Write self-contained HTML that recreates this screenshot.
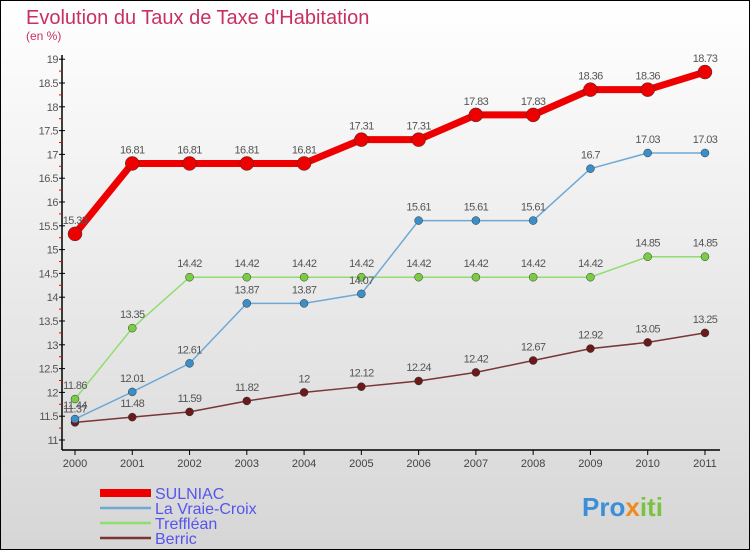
<!DOCTYPE html>
<html><head><meta charset="utf-8"><style>
body{margin:0;width:750px;height:550px;overflow:hidden}
svg{display:block;font-family:"Liberation Sans",sans-serif}
</style></head><body>
<svg id="c" width="750" height="550">
<defs><linearGradient id="bg" x1="0" y1="0" x2="0" y2="1"><stop offset="0" stop-color="#ffffff"/><stop offset="1" stop-color="#d6d6d6"/></linearGradient></defs>
<rect x="0.5" y="0.5" width="749" height="549" fill="url(#bg)" stroke="#000"/>
<text x="26" y="24" font-size="20" fill="#c8305f">Evolution du Taux de Taxe d'Habitation</text>
<text x="26" y="40" font-size="12" fill="#c8305f">(en %)</text>
<g id="axes"></g><g id="series"></g><g id="legend"></g>
<text x="582" y="516" font-size="26" font-weight="bold" fill="#3a8fd8">Pro<tspan fill="#f08a1c">x</tspan><tspan fill="#7cc242">iti</tspan></text>
</svg>
<script>
const years=[2000,2001,2002,2003,2004,2005,2006,2007,2008,2009,2010,2011];
const yTicks=[11,11.5,12,12.5,13,13.5,14,14.5,15,15.5,16,16.5,17,17.5,18,18.5,19];
const sulniac=[15.33,16.81,16.81,16.81,16.81,17.31,17.31,17.83,17.83,18.36,18.36,18.73];
const vraieCroix=[11.44,12.01,12.61,13.87,13.87,14.07,15.61,15.61,15.61,16.7,17.03,17.03];
const treffleau=[11.86,13.35,14.42,14.42,14.42,14.42,14.42,14.42,14.42,14.42,14.85,14.85];
const berric=[11.37,11.48,11.59,11.82,12,12.12,12.24,12.42,12.67,12.92,13.05,13.25];
const names=["SULNIAC","La Vraie-Croix","Treffléan","Berric"];
const NS="http://www.w3.org/2000/svg";
const X=i=>75+i*57.27, Y=v=>440-(v-11)*47.6;
function mk(t,a,p){const e=document.createElementNS(NS,t);for(const k in a)e.setAttribute(k,a[k]);(p||document.getElementById('axes')).appendChild(e);return e;}
const ax=document.getElementById('axes');
let e=mk('line',{x1:62,y1:55,x2:62,y2:450,stroke:'#000','stroke-width':1.5});


e=mk('line',{x1:62,y1:450,x2:720,y2:450,stroke:'#000','stroke-width':1.5});


yTicks.forEach((v,i)=>{
 mk('line',{x1:59,y1:Y(v),x2:65,y2:Y(v),stroke:'#000'});
 if(i<yTicks.length-1)mk('line',{x1:59,y1:Y(v+0.25),x2:62,y2:Y(v+0.25),stroke:'#e00'});
 const t=mk('text',{x:58,y:Y(v)+4,'font-size':11,fill:'#555','text-anchor':'end','letter-spacing':'-0.5'});t.textContent=String(v);
 
 
});
years.forEach((y,i)=>{
 mk('line',{x1:X(i),y1:450,x2:X(i),y2:455,stroke:'#000'});
 const t=mk('text',{x:X(i),y:467,'font-size':11,fill:'#444','text-anchor':'middle'});t.textContent=y;
 
 
});
const sg=document.getElementById('series');
function series(d,col,w,r,dot,name){
 const g=mk('g',{},sg);
 
 
 mk('polyline',{points:d.map((v,i)=>X(i)+','+Y(v)).join(' '),fill:'none',stroke:col,'stroke-width':w,'stroke-linejoin':'round'},g);
 d.forEach((v,i)=>{
  const c=mk('circle',{cx:X(i),cy:Y(v),r:r,fill:dot,stroke:'#333','stroke-width':0.5},g);
  
  
  const t=mk('text',{x:X(i),y:Y(v)-10,'font-size':11,fill:'#555','text-anchor':'middle','letter-spacing':'-0.6'},g);
  t.textContent=String(v);
  
  
 });
}
series(berric,'#7a3535',1.5,4,'#6a1a1a','series-berric');
series(treffleau,'#90dd70',1.5,4,'#7acc44','series-treffleau');
series(vraieCroix,'#6fa8d4',1.5,4,'#3a8fc8','series-la-vraie-croix');
series(sulniac,'#ee0000',7,7,'#ee0000','series-sulniac');
const lg=document.getElementById('legend');
const lc=['#ee0000','#6fa8d4','#90dd70','#7a3535'],lw=[8,2.5,2.5,2.5];
names.forEach((n,i)=>{
 const y=493+i*15;
 const l=mk('line',{x1:100,y1:y,x2:151,y2:y,stroke:lc[i],'stroke-width':lw[i]},lg);
 
 
 const t=mk('text',{x:155,y:y+6,'font-size':16,fill:'#5555ee'},lg);t.textContent=n;
 
 
});
</script>
</body></html>
